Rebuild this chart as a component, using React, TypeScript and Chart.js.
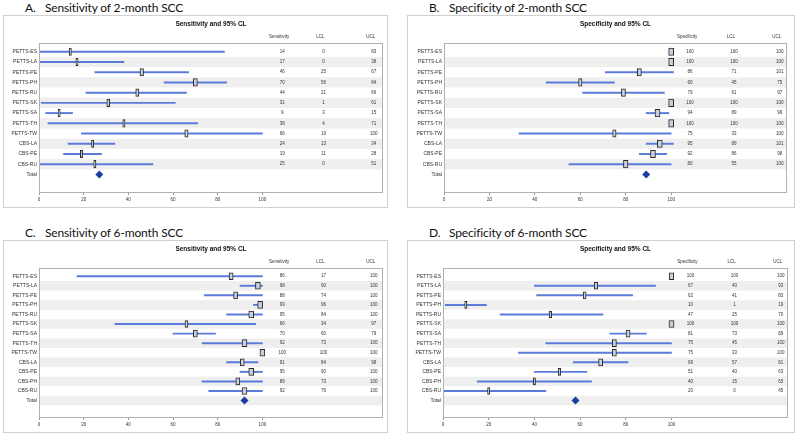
import React, { useEffect, useRef } from 'react';
import { Chart, registerables } from 'chart.js';

Chart.register(...registerables);

// ---------- data ----------
const sites12 = ['PETTS-ES', 'PETTS-LA', 'PETTS-PE', 'PETTS-PH', 'PETTS-RU', 'PETTS-SK', 'PETTS-SA', 'PETTS-TH', 'PETTS-TW', 'CBS-LA', 'CBS-PE', 'CBS-RU'];
const sites13 = ['PETTS-ES', 'PETTS-LA', 'PETTS-PE', 'PETTS-PH', 'PETTS-RU', 'PETTS-SK', 'PETTS-SA', 'PETTS-TH', 'PETTS-TW', 'CBS-LA', 'CBS-PE', 'CBS-PH', 'CBS-RU'];
const xTicks = [0, 20, 40, 60, 80, 100];

const sens2Est = [14, 17, 46, 70, 44, 31, 9, 38, 66, 24, 19, 25];
const sens2Lcl = [0, 0, 25, 56, 21, 1, 3, 4, 19, 13, 11, 0];
const sens2Ucl = [83, 38, 67, 84, 66, 61, 15, 71, 100, 34, 28, 51];
const sens2Weight = [1.0, 1.0, 1.6, 1.8, 1.4, 1.3, 1.0, 1.0, 1.5, 1.0, 1.0, 1.0];
const sens2Total = 27;

const spec2Est = [100, 100, 86, 60, 79, 100, 94, 100, 75, 95, 92, 80];
const spec2Lcl = [100, 100, 71, 45, 61, 100, 89, 100, 33, 89, 86, 55];
const spec2Ucl = [100, 100, 101, 75, 97, 100, 99, 100, 100, 101, 98, 100];
const spec2Weight = [2.2, 2.2, 1.8, 1.5, 1.8, 2.2, 2.2, 2.2, 1.5, 2.2, 2.2, 2.0];
const spec2Total = 89;

const sens6Est = [86, 98, 88, 99, 95, 66, 70, 92, 100, 91, 95, 89, 92];
const sens6Lcl = [17, 90, 74, 96, 84, 34, 60, 73, 100, 84, 90, 73, 76];
const sens6Ucl = [100, 100, 100, 100, 100, 97, 79, 100, 100, 98, 100, 100, 100];
const sens6Weight = [1.8, 2.2, 1.8, 2.2, 2.2, 1.3, 1.8, 2.2, 2.2, 1.8, 2.2, 1.8, 2.2];
const sens6Total = 92;

const spec6Est = [100, 67, 62, 10, 47, 100, 81, 75, 75, 69, 51, 40, 20];
const spec6Lcl = [100, 40, 41, 1, 25, 100, 73, 45, 33, 57, 40, 15, 0];
const spec6Ucl = [100, 93, 83, 19, 70, 100, 89, 100, 100, 81, 63, 65, 45];
const spec6Weight = [2.0, 1.5, 1.3, 1.0, 1.1, 2.2, 1.8, 1.8, 1.8, 1.8, 1.1, 1.0, 1.0];
const spec6Total = 58;

// ---------- styling ----------
const FONT = "'Liberation Sans', Arial, sans-serif";
const CI_COLOR = '#5a7bda';
const BOX_FILL = '#c9cfdc';
const BOX_EDGE = '#2a2a2a';
const DIAMOND = '#1a3f9e';
const STRIPE = '#efefef';

type PanelProps = {
  frame: { left: number; top: number; w: number; h: number };
  letter: string;
  title: string;
  measure: string;
  sites: string[];
  est: number[];
  lcl: number[];
  ucl: number[];
  weight: number[];
  total: number;
  xMax: number;
  yW: number;
  rightPad: number;
  cols: number[];
  barH: number;
};

function ForestPanel(p: PanelProps) {
  const ref = useRef<HTMLCanvasElement>(null);
  useEffect(() => {
    const labels = [...p.sites, 'Total'];
    const n = p.sites.length;
    const forest = {
      id: 'forest',
      beforeDatasetsDraw(chart: any) {
        const { ctx, chartArea: a, scales } = chart;
        const y = scales.y;
        ctx.save();
        ctx.fillStyle = STRIPE;
        for (let i = 1; i < labels.length; i += 2) {
          const t = y.getPixelForValue(i - 0.5);
          const b = y.getPixelForValue(i + 0.5);
          ctx.fillRect(a.left, t, a.right - a.left, b - t);
        }
        ctx.restore();
      },
      afterDatasetsDraw(chart: any) {
        const { ctx, chartArea: a, scales } = chart;
        const x = scales.x;
        const y = scales.y;
        ctx.save();
        ctx.strokeStyle = '#b0b0b0';
        ctx.lineWidth = 1;
        ctx.strokeRect(Math.round(a.left) + 0.5, Math.round(a.top) + 0.5, Math.round(a.right - a.left) - 1, Math.round(a.bottom - a.top));
        // chart heading
        ctx.fillStyle = '#111';
        ctx.textAlign = 'center';
        ctx.textBaseline = 'middle';
        ctx.font = `bold 6.5px ${FONT}`;
        ctx.fillText(`${p.measure} and 95% CL`, (a.left + a.right) / 2, 8.5);
        // column headers
        ctx.font = `4.5px ${FONT}`;
        ctx.fillStyle = '#333';
        const heads = [p.measure, 'LCL', 'UCL'];
        heads.forEach((h, k) => ctx.fillText(h, x.getPixelForValue(p.cols[k]), a.top - 6));
        // column values
        const cols = [p.est, p.lcl, p.ucl];
        for (let i = 0; i < n; i++) {
          const py = y.getPixelForValue(i);
          cols.forEach((arr, k) => {
            ctx.fillText(String(arr[i]), x.getPixelForValue(p.cols[k]) + 3, py);
          });
        }
        ctx.restore();
      },
    };

    const chart = new Chart(ref.current as HTMLCanvasElement, {
      type: 'bar',
      data: {
        datasets: [
          {
            type: 'scatter',
            data: [{ x: p.total, y: n }],
            pointStyle: 'rectRot',
            pointRadius: 4,
            backgroundColor: DIAMOND,
            borderColor: DIAMOND,
            borderWidth: 0,
            order: 0,
          } as any,
          {
            type: 'bar',
            indexAxis: 'y',
            grouped: false,
            data: p.est.map((e, i) => ({ x: [e - p.weight[i] / 2, e + p.weight[i] / 2], y: i })),
            barThickness: p.barH,
            backgroundColor: BOX_FILL,
            borderColor: BOX_EDGE,
            borderWidth: 1,
            borderSkipped: false,
            order: 1,
          } as any,
          {
            type: 'bar',
            indexAxis: 'y',
            grouped: false,
            data: p.lcl.map((l, i) => ({ x: [l, p.ucl[i]], y: i })),
            barThickness: 1.3,
            backgroundColor: CI_COLOR,
            borderWidth: 0,
            order: 2,
          } as any,
        ],
      },
      options: {
        responsive: false,
        animation: false,
        events: [],
        layout: { padding: { left: 0, top: 27, right: p.rightPad, bottom: 0 } },
        plugins: { legend: { display: false }, tooltip: { enabled: false }, title: { display: false } },
        scales: {
          x: {
            type: 'linear',
            offset: false,
            min: 0,
            max: p.xMax,
            afterBuildTicks: (s: any) => { s.ticks = xTicks.map((v) => ({ value: v })); },
            afterFit: (s: any) => { s.height = 15; },
            border: { display: false },
            grid: { display: true, offset: false, drawOnChartArea: false, drawTicks: true, tickLength: 3, color: '#999' },
            ticks: { autoSkip: false, maxRotation: 0, padding: 2, color: '#333', font: { family: FONT, size: 4.5 } },
          },
          y: {
            type: 'linear',
            offset: false,
            reverse: true,
            min: -0.86,
            max: n + 1.72,
            afterBuildTicks: (s: any) => { s.ticks = labels.map((_, i) => ({ value: i })); },
            afterFit: (s: any) => { s.width = p.yW; },
            border: { display: false },
            grid: { display: false, drawTicks: false, tickLength: 0 },
            ticks: {
              autoSkip: false,
              padding: 2,
              color: '#333',
              font: { family: FONT, size: 5 },
              callback: (v: any) => labels[v as number] ?? '',
            },
          },
        },
      },
      plugins: [forest],
    } as any);
    return () => chart.destroy();
  }, []);

  const f = p.frame;
  const tStyle: React.CSSProperties = { position: 'absolute', top: f.top - 15, font: `12px Lato, sans-serif`, letterSpacing: '-0.15px', color: '#111', whiteSpace: 'nowrap', lineHeight: '16px' };
  return (
    <>
      <div style={{ ...tStyle, left: f.left + 22 }}>{p.letter}</div>
      <div style={{ ...tStyle, left: f.left + 42 }}>{p.title}</div>
      <div style={{ position: 'absolute', left: f.left, top: f.top, width: f.w, height: f.h, boxSizing: 'border-box', border: '1px solid #d0d0d0' }}>
        <canvas ref={ref} width={f.w - 2} height={f.h - 2} style={{ display: 'block', width: f.w - 2, height: f.h - 2 }} />
      </div>
    </>
  );
}

export default function App() {
  return (
    <div style={{ position: 'absolute', left: 0, top: 0, width: 800, height: 437, background: '#fff', overflow: 'hidden' }}>
      <ForestPanel
        frame={{ left: 3, top: 15, w: 385, h: 193 }}
        letter="A."
        title="Sensitivity of 2-month SCC"
        measure="Sensitivity"
        sites={sites12}
        est={sens2Est}
        lcl={sens2Lcl}
        ucl={sens2Ucl}
        weight={sens2Weight}
        total={sens2Total}
        xMax={154}
        yW={35}
        rightPad={1}
        cols={[107.5, 126, 148.5]}
        barH={7.5}
      />
      <ForestPanel
        frame={{ left: 407, top: 15, w: 388, h: 193 }}
        letter="B."
        title="Specificity of 2-month SCC"
        measure="Specificity"
        sites={sites12}
        est={spec2Est}
        lcl={spec2Lcl}
        ucl={spec2Ucl}
        weight={spec2Weight}
        total={spec2Total}
        xMax={151}
        yW={36}
        rightPad={7}
        cols={[107, 126.3, 146.5]}
        barH={7.5}
      />
      <ForestPanel
        frame={{ left: 3, top: 240, w: 385, h: 193 }}
        letter="C."
        title="Sensitivity of 6-month SCC"
        measure="Sensitivity"
        sites={sites13}
        est={sens6Est}
        lcl={sens6Lcl}
        ucl={sens6Ucl}
        weight={sens6Weight}
        total={sens6Total}
        xMax={154}
        yW={35}
        rightPad={1}
        cols={[107.5, 126, 148.5]}
        barH={7}
      />
      <ForestPanel
        frame={{ left: 407, top: 240, w: 388, h: 193 }}
        letter="D."
        title="Specificity of 6-month SCC"
        measure="Specificity"
        sites={sites13}
        est={spec6Est}
        lcl={spec6Lcl}
        ucl={spec6Ucl}
        weight={spec6Weight}
        total={spec6Total}
        xMax={151}
        yW={35}
        rightPad={6}
        cols={[107, 126.3, 146.5]}
        barH={7}
      />
    </div>
  );
}
